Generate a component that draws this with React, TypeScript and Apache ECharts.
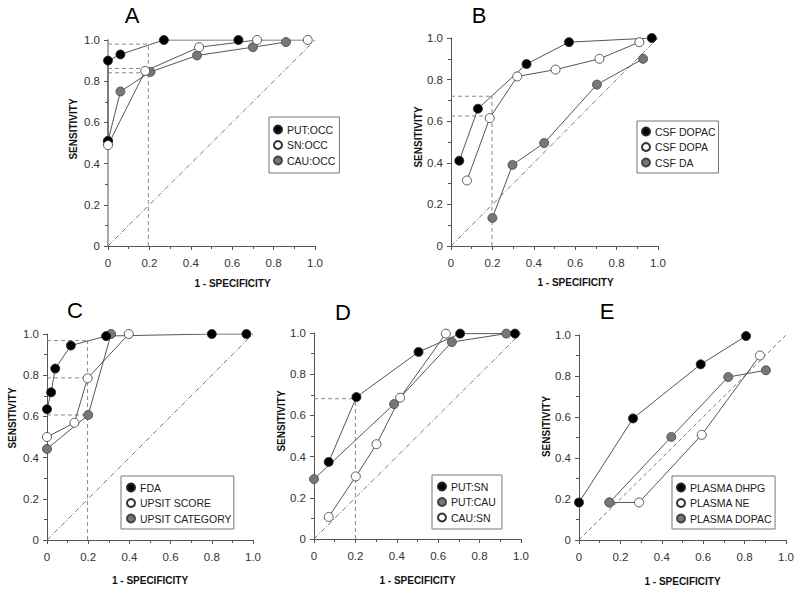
import React, { useEffect, useRef } from 'react';
import * as echarts from 'echarts';

const FONT = '"Liberation Sans", Arial, Helvetica, sans-serif';

const tickValues = [0, 0.2, 0.4, 0.6, 0.8, 1.0];
const panelLetters = ['A', 'B', 'C', 'D', 'E'];
const xAxisTitle = '1 - SPECIFICITY';
const yAxisTitle = 'SENSITIVITY';

// Panel A
const putOcc = [[0, 0.51], [0, 0.9], [0.06, 0.93], [0.27, 1.0], [0.63, 1.0]];
const snOcc = [[0, 0.49], [0.18, 0.85], [0.44, 0.965], [0.72, 1.0], [0.965, 1.0]];
const cauOcc = [[0, 0.51], [0.06, 0.75], [0.205, 0.845], [0.43, 0.925], [0.7, 0.965], [0.86, 0.99]];
const cutA = 0.195;
const refA = [0.98, 0.862, 0.841];

// Panel B
const csfDopac = [[0.04, 0.41], [0.13, 0.66], [0.365, 0.875], [0.57, 0.98], [0.97, 1.0]];
const csfDopa = [[0.077, 0.315], [0.187, 0.615], [0.32, 0.815], [0.505, 0.848], [0.717, 0.9], [0.91, 0.98]];
const csfDa = [[0.2, 0.135], [0.297, 0.39], [0.45, 0.495], [0.705, 0.776], [0.928, 0.9]];
const cutB = 0.198;
const refB = [0.72, 0.625];

// Panel C
const fda = [[0, 0.635], [0.02, 0.717], [0.04, 0.832], [0.116, 0.944], [0.287, 0.99], [0.8, 1.0], [0.968, 1.0]];
const upsitScore = [[0, 0.5], [0.133, 0.569], [0.197, 0.785], [0.397, 1.0]];
const upsitCategory = [[0, 0.442], [0.2, 0.607], [0.311, 1.0]];
const cutC = 0.197;
const refC = [0.968, 0.787, 0.607];

// Panel D
const putSn = [[0.071, 0.374], [0.205, 0.689], [0.505, 0.908], [0.706, 0.997], [0.971, 0.997]];
const putCau = [[0, 0.291], [0.387, 0.655], [0.666, 0.956], [0.929, 0.997]];
const cauSn = [[0.071, 0.107], [0.202, 0.304], [0.302, 0.46], [0.416, 0.686], [0.637, 0.997]];
const cutD = 0.2;
const refD = [0.681];

// Panel E
const plasmaDhpg = [[0, 0.183], [0.261, 0.593], [0.588, 0.857], [0.807, 0.995]];
const plasmaNe = [[0.147, 0.183], [0.29, 0.183], [0.593, 0.513], [0.874, 0.9]];
const plasmaDopac = [[0.147, 0.183], [0.446, 0.503], [0.721, 0.795], [0.903, 0.828]];

const BLACK = { color: '#000000', borderColor: '#222222', borderWidth: 0.8 };
const WHITE = { color: '#ffffff', borderColor: '#333333', borderWidth: 0.8 };
const GRAY = { color: '#777777', borderColor: '#444444', borderWidth: 0.8 };

type SeriesDef = { name: string; data: number[][]; style: any };

const panels = [
  {
    grid: { left: 108, top: 40, width: 207, height: 206 },
    series: [
      { name: 'CAU:OCC', data: cauOcc, style: GRAY },
      { name: 'PUT:OCC', data: putOcc, style: BLACK },
      { name: 'SN:OCC', data: snOcc, style: WHITE },
    ] as SeriesDef[],
    legendNames: ['PUT:OCC', 'SN:OCC', 'CAU:OCC'],
    legendPos: { left: 269, top: 117 },
    legendPad: [7, 4, 7, 4],
    cut: cutA, refs: refA,
    title: { x: 132, y: 15 },
    xNameGap: 32, xNamePad: [0, 0, 0, 42],
    yNameGap: 30, yNamePad: [0, 0, 0, 28],
    yAxisColor: '#aaaaaa', yAxisWidth: 2,
  },
  {
    grid: { left: 451, top: 38, width: 207, height: 208 },
    series: [
      { name: 'CSF DA', data: csfDa, style: GRAY },
      { name: 'CSF DOPA', data: csfDopa, style: WHITE },
      { name: 'CSF DOPAC', data: csfDopac, style: BLACK },
    ] as SeriesDef[],
    legendNames: ['CSF DOPAC', 'CSF DOPA', 'CSF DA'],
    legendPos: { left: 637, top: 121 },
    legendPad: [5, 3, 5, 4],
    cut: cutB, refs: refB,
    title: { x: 479, y: 15 },
    xNameGap: 31, xNamePad: [0, 0, 0, 42],
    yNameGap: 28, yNamePad: [0, 0, 0, 10],
    yAxisColor: '#555555', yAxisWidth: 1,
  },
  {
    grid: { left: 47, top: 334, width: 206, height: 206 },
    series: [
      { name: 'UPSIT CATEGORY', data: upsitCategory, style: GRAY },
      { name: 'UPSIT SCORE', data: upsitScore, style: WHITE },
      { name: 'FDA', data: fda, style: BLACK },
    ] as SeriesDef[],
    legendNames: ['FDA', 'UPSIT SCORE', 'UPSIT CATEGORY'],
    legendPos: { left: 121, top: 476 },
    legendPad: [6, 2, 5, 5],
    cut: cutC, refs: refC,
    title: { x: 75, y: 310 },
    xNameGap: 35, xNamePad: [0, 0, 0, 0],
    yNameGap: 30, yNamePad: [0, 0, 0, 38],
    yAxisColor: '#555555', yAxisWidth: 1,
  },
  {
    grid: { left: 314, top: 333, width: 207, height: 206 },
    series: [
      { name: 'CAU:SN', data: cauSn, style: WHITE },
      { name: 'PUT:CAU', data: putCau, style: GRAY },
      { name: 'PUT:SN', data: putSn, style: BLACK },
    ] as SeriesDef[],
    legendNames: ['PUT:SN', 'PUT:CAU', 'CAU:SN'],
    legendPos: { left: 432, top: 475 },
    legendPad: [6, 6, 6, 5],
    cut: cutD, refs: refD,
    title: { x: 343, y: 312 },
    xNameGap: 36, xNamePad: [0, 0, 0, 0],
    yNameGap: 21, yNamePad: [0, 0, 0, 30],
    yAxisColor: '#555555', yAxisWidth: 1,
  },
  {
    grid: { left: 579, top: 335, width: 207, height: 205 },
    series: [
      { name: 'PLASMA NE', data: plasmaNe, style: WHITE },
      { name: 'PLASMA DOPAC', data: plasmaDopac, style: GRAY },
      { name: 'PLASMA DHPG', data: plasmaDhpg, style: BLACK },
    ] as SeriesDef[],
    legendNames: ['PLASMA DHPG', 'PLASMA NE', 'PLASMA DOPAC'],
    legendPos: { left: 672, top: 476 },
    legendPad: [6, 3, 5, 4],
    cut: null as number | null, refs: [] as number[],
    title: { x: 607, y: 311 },
    xNameGap: 36, xNamePad: [0, 0, 0, 0],
    yNameGap: 26, yNamePad: [0, 0, 0, 22],
    yAxisColor: '#555555', yAxisWidth: 1,
  },
];

const labelFmt = (v: number) => (v === 0 ? '0' : v.toFixed(1));

function buildOption() {
  const grid: any[] = [];
  const xAxis: any[] = [];
  const yAxis: any[] = [];
  const series: any[] = [];
  const legend: any[] = [];
  const graphic: any[] = [];

  panels.forEach((p, i) => {
    grid.push({ ...p.grid, containLabel: false });
    const axisCommon = {
      type: 'value',
      gridIndex: i,
      min: tickValues[0],
      max: tickValues[tickValues.length - 1],
      interval: tickValues[1] - tickValues[0],
      splitLine: { show: false },
      minorSplitLine: { show: false },
      axisTick: { show: true, length: 4, lineStyle: { color: '#555', width: 1 } },
      minorTick: { show: true, splitNumber: 2, length: 3, lineStyle: { color: '#555', width: 1 } },
      axisLabel: { formatter: labelFmt, fontSize: 11.5, color: '#333', fontFamily: FONT },
    };
    xAxis.push({
      ...axisCommon,
      axisLine: { show: true, onZero: false, lineStyle: { color: '#555', width: 1 } },
      axisLabel: { ...axisCommon.axisLabel, margin: 11 },
      name: xAxisTitle,
      nameLocation: 'middle',
      nameGap: p.xNameGap,
      nameTextStyle: { fontWeight: 'bold', fontSize: 10, color: '#111', fontFamily: FONT, padding: p.xNamePad },
    });
    yAxis.push({
      ...axisCommon,
      axisLine: { show: true, onZero: false, lineStyle: { color: p.yAxisColor, width: p.yAxisWidth } },
      axisLabel: { ...axisCommon.axisLabel, margin: 8 },
      name: yAxisTitle,
      nameLocation: 'middle',
      nameGap: p.yNameGap,
      nameTextStyle: { fontWeight: 'bold', fontSize: 10, color: '#111', fontFamily: FONT, padding: p.yNamePad },
    });

    // chance diagonal
    series.push({
      type: 'line', xAxisIndex: i, yAxisIndex: i, silent: true, symbol: 'none', z: 1,
      data: [[0, 0], [1, 1]],
      lineStyle: { color: '#555', width: 0.8, type: i === 4 ? [4, 3] : [5, 2, 1, 2] },
    });
    // dashed cut-off lines
    if (p.cut !== null) {
      series.push({
        type: 'line', xAxisIndex: i, yAxisIndex: i, silent: true, symbol: 'none', z: 1,
        data: [[p.cut, 0], [p.cut, p.refs[0]]],
        lineStyle: { color: '#888', width: 1, type: [4, 3] },
      });
      p.refs.forEach((r) => {
        series.push({
          type: 'line', xAxisIndex: i, yAxisIndex: i, silent: true, symbol: 'none', z: 1,
          data: [[0, r], [p.cut as number, r]],
          lineStyle: { color: '#888', width: 1, type: [4, 3] },
        });
      });
    }
    p.series.forEach((s) => {
      series.push({
        type: 'line', name: s.name, xAxisIndex: i, yAxisIndex: i, z: 3,
        data: s.data,
        symbol: 'circle', symbolSize: 9,
        lineStyle: { color: '#444', width: 0.9 },
        itemStyle: { ...s.style },
      });
    });

    legend.push({
      data: p.legendNames,
      orient: 'vertical',
      left: p.legendPos.left,
      top: p.legendPos.top,
      icon: 'circle',
      itemWidth: 8,
      itemHeight: 8,
      itemGap: 4.5,
      padding: p.legendPad,
      borderColor: '#777',
      borderWidth: 1,
      borderRadius: 0,
      backgroundColor: '#fff',
      selectedMode: false,
      textStyle: { fontSize: 10.5, color: '#222', fontFamily: FONT },
    });

    graphic.push({
      type: 'text',
      x: p.title.x,
      y: p.title.y,
      style: { text: panelLetters[i], fontSize: 22, fontFamily: FONT, fill: '#000', align: 'center', verticalAlign: 'middle' },
    });
  });

  return { animation: false, backgroundColor: '#fff', grid, xAxis, yAxis, series, legend, graphic };
}

export default function App() {
  const ref = useRef<HTMLDivElement>(null);
  useEffect(() => {
    if (!ref.current) return;
    const chart = echarts.init(ref.current, undefined, { renderer: 'svg' });
    chart.setOption(buildOption() as any);
    return () => chart.dispose();
  }, []);
  return <div ref={ref} style={{ position: 'fixed', left: 0, top: 0, width: 800, height: 593 }} />;
}
